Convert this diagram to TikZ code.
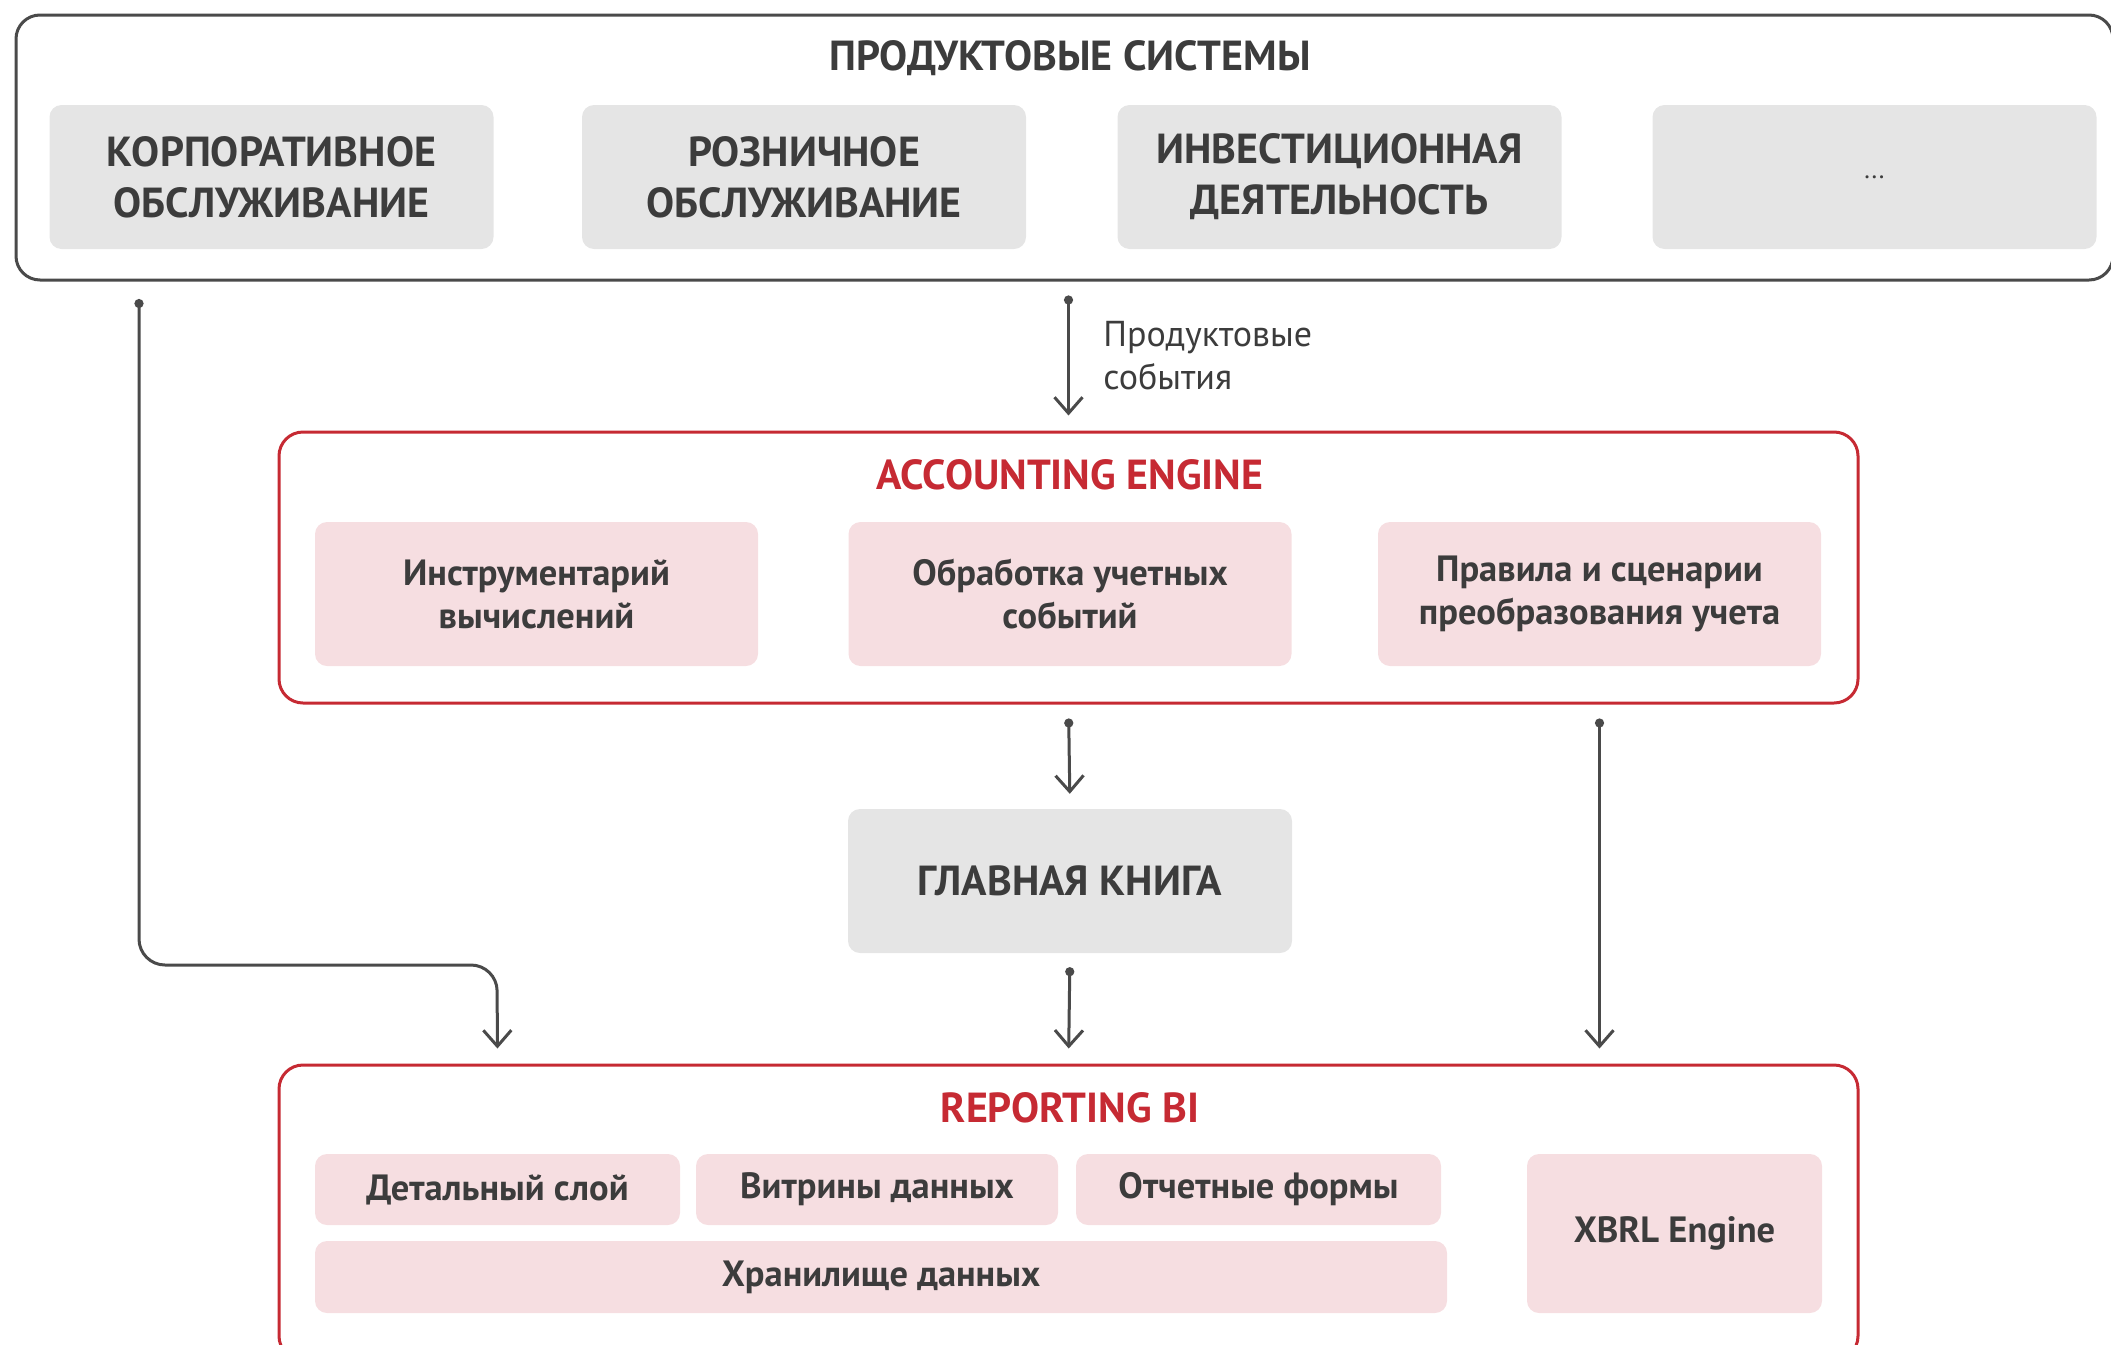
\documentclass[tikz,border=0pt]{standalone}
\usepackage{fontspec}
\setmainfont{PT Sans}
\usepackage{tikz}
\usetikzlibrary{arrows.meta,positioning,calc}

\definecolor{txtgray}{HTML}{3C3C3C}
\definecolor{framegray}{HTML}{4A4A4A}
\definecolor{boxgray}{HTML}{E5E5E5}
\definecolor{boxpink}{HTML}{F6DEE1}
\definecolor{accred}{HTML}{C62A33}

\tikzset{
  frame/.style={draw=framegray,line width=3pt,rounded corners=24pt},
  redframe/.style={draw=accred,line width=3pt,rounded corners=24pt},
  graybox/.style={fill=boxgray,rounded corners=12pt,align=center,text=txtgray,
    font=\fontsize{42}{51}\selectfont\bfseries,minimum width=444pt,minimum height=144pt},
  pinkbox/.style={fill=boxpink,rounded corners=12pt,align=center,text=txtgray,
    font=\fontsize{36.5}{43}\selectfont\bfseries,inner sep=0pt},
  title/.style={font=\fontsize{42}{48}\selectfont\bfseries},
  conn/.style={draw=framegray,line width=3pt,
    {Circle[length=9pt]}-{Straight Barb[length=16pt,width=28pt,line width=3pt]},
    shorten <=14pt,shorten >=15pt}
}

\begin{document}
\begin{tikzpicture}[x=1pt,y=-1pt]
\useasboundingbox (0,0) rectangle (2111,1344);

% Product systems
\node[frame,minimum width=2097pt,minimum height=265pt] (sys) at (1064.5,147.5) {};
\node[title,text=txtgray] (systitle) at (1070,58) {ПРОДУКТОВЫЕ СИСТЕМЫ};
\foreach \x/\nm/\txt in {271.5/corp/{КОРПОРАТИВНОЕ\\ОБСЛУЖИВАНИЕ},
    804/retail/{РОЗНИЧНОЕ\\ОБСЛУЖИВАНИЕ},
    1339.5/invest/{ИНВЕСТИЦИОННАЯ\\ДЕЯТЕЛЬНОСТЬ}}
    \node[graybox] (\nm) at (\x,177) {\txt};
\node[graybox,font=\fontsize{26}{30}\selectfont] (other) at (1874.5,177) {...};

% Accounting engine
\node[redframe,minimum width=1579pt,minimum height=271pt] (ae) at (1068.5,567.5) {};
\node[title,text=accred] (aetitle) at (1070,475) {ACCOUNTING ENGINE};
\foreach \x/\nm/\txt in {536.5/calc/{Инструментарий\\вычислений},
    1070/events/{Обработка учетных\\событий},
    1599.5/rules/{Правила и сценарии\\преобразования учета}}
    \node[pinkbox,minimum width=443pt,minimum height=144pt] (\nm) at (\x,594) {\txt};

% General ledger
\node[graybox] (gl) at (1070,881) {ГЛАВНАЯ КНИГА};

% Reporting BI
\node[redframe,minimum width=1579pt,minimum height=295pt] (rep) at (1068.5,1212.5) {};
\node[title,text=accred] (reptitle) at (1070,1108) {REPORTING BI};
\node[pinkbox,minimum width=365pt,minimum height=71pt] (det) at (497.5,1189.5) {Детальный слой};
\node[pinkbox,minimum width=362pt,minimum height=71pt] (marts) at (877,1189.5) {Витрины данных};
\node[pinkbox,minimum width=365pt,minimum height=71pt] (forms) at (1258.5,1189.5) {Отчетные формы};
\node[pinkbox,minimum width=1132pt,minimum height=72pt] (store) at (881,1277) {Хранилище данных};
\node[pinkbox,minimum width=295pt,minimum height=159pt] (xbrl) at (1674.5,1233.5) {XBRL Engine};

% Connectors
\draw[conn] (sys.south -| ae.north) -- (ae.north)
    node[pos=0.5,right=30pt,align=left,text=txtgray,
    font=\fontsize{36}{43}\selectfont] (evlabel) {Продуктовые\\события};
\draw[conn] (ae.south) -- (gl.north);
\draw[conn] (gl.south) -- (rep.north);
\draw[conn] (ae.south -| rules.south) -- (rep.north -| rules.south);
\coordinate (lstart) at (139,285);
\coordinate (lturn) at (497,965);
\draw[conn,rounded corners=26pt] (lstart) |- (lturn) -- (rep.north -| det.north);
\end{tikzpicture}
\end{document}
